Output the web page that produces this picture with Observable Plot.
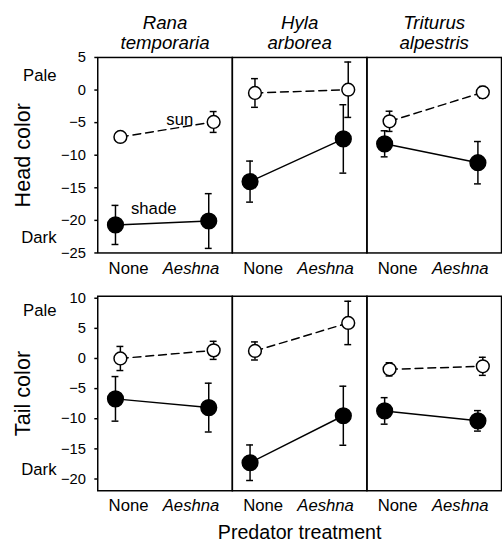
<!DOCTYPE html>
<html><head><meta charset="utf-8">
<script src="https://cdn.jsdelivr.net/npm/d3@7"></script>
<script src="https://cdn.jsdelivr.net/npm/@observablehq/plot@0.6"></script>
<style>
html,body{margin:0;padding:0;background:#fff;overflow:hidden;width:502px;height:551px}
#chart svg{display:block}
</style></head><body><div id="chart"></div>
<script>
// ---- data ----
const species = ["Rana temporaria", "Hyla arborea", "Triturus alpestris"];
const speciesTitles = ["Rana\ntemporaria", "Hyla\narborea", "Triturus\nalpestris"];
const treatments = ["None", "Aeshna"];
const treatmentIndex = [0, 1];
const treatmentLabelPos = [0.14, 0.81];

const headSunMean   = [[-7.2, -4.9], [-0.45, 0.05], [-4.8, -0.35]];
const headSunErr    = [[0.6, 1.6], [2.2, 4.25], [1.55, 0.9]];
const headShadeMean = [[-20.7, -20.1], [-14.05, -7.5], [-8.25, -11.15]];
const headShadeErr  = [[3.0, 4.2], [3.15, 5.25], [2.0, 3.25]];

const tailSunMean   = [[0.0, 1.35], [1.25, 5.9], [-1.8, -1.3]];
const tailSunErr    = [[2.0, 1.5], [1.5, 3.6], [1.1, 1.5]];
const tailShadeMean = [[-6.7, -8.15], [-17.3, -9.5], [-8.7, -10.35]];
const tailShadeErr  = [[3.7, 4.05], [2.95, 4.9], [2.2, 1.7]];

const headTicks = [5, 0, -5, -10, -15, -20, -25];
const tailTicks = [10, 5, 0, -5, -10, -15, -20];
const headDomain = [-25, 5];
const tailDomain = [-21.95, 10.33];
const xDomain = [-0.19, 1.253];

const seriesLabels = [{text: "sun", t: 0.69, v: -4.5}, {text: "shade", t: 0.41, v: -18.2}];
const headWords = [{text: "Pale", v: 2.15}, {text: "Dark", v: -22.6}];
const tailWords = [{text: "Pale", v: 8.0}, {text: "Dark", v: -18.5}];
const xTitle = "Predator treatment";

// ---- build ----
function rows(means, errs, series) {
  const out = [];
  species.forEach((s, i) => treatmentIndex.forEach((t, j) => {
    out.push({species: s, t, series, mean: means[i][j], lo: means[i][j] - errs[i][j], hi: means[i][j] + errs[i][j]});
  }));
  return out;
}

const FONT = "'Liberation Sans', Arial, Helvetica, sans-serif";

function panel({sun, shade, domain, ticks, yLabel, words, height, marginTop, marginBottom, top}) {
  const s0 = species[0];
  const marks = [
    Plot.frame({stroke: "black", strokeWidth: 1.5}),
    Plot.axisY({ticks, tickSize: 3, tickPadding: 9, fontSize: 15, label: null, strokeWidth: 1.5}),
    Plot.axisX({ticks: [treatmentLabelPos[0]], tickFormat: () => treatments[0], tickSize: 0, tickPadding: 9, fontSize: 17, label: null}),
    Plot.axisX({ticks: [treatmentLabelPos[1]], tickFormat: () => treatments[1], tickSize: 0, tickPadding: 9, fontSize: 17, fontStyle: "italic", label: null}),
    // lines
    Plot.line(shade, {fx: "species", x: "t", y: "mean", z: "species", stroke: "black", strokeWidth: 1.5}),
    Plot.line(sun, {fx: "species", x: "t", y: "mean", z: "species", stroke: "black", strokeWidth: 1.5, strokeDasharray: "8,5", dx: 5}),
    // error bars
    Plot.ruleX(shade, {fx: "species", x: "t", y1: "lo", y2: "hi", stroke: "black", strokeWidth: 1.5}),
    Plot.ruleY(shade, {fx: "species", y: "lo", x1: "t", x2: "t", insetLeft: -3.5, insetRight: -3.5, stroke: "black", strokeWidth: 1.5}),
    Plot.ruleY(shade, {fx: "species", y: "hi", x1: "t", x2: "t", insetLeft: -3.5, insetRight: -3.5, stroke: "black", strokeWidth: 1.5}),
    Plot.ruleX(sun, {fx: "species", x: "t", y1: "lo", y2: "hi", stroke: "black", strokeWidth: 1.5, dx: 5}),
    Plot.ruleY(sun, {fx: "species", y: "lo", x1: "t", x2: "t", insetLeft: -3.5, insetRight: -3.5, stroke: "black", strokeWidth: 1.5, dx: 5}),
    Plot.ruleY(sun, {fx: "species", y: "hi", x1: "t", x2: "t", insetLeft: -3.5, insetRight: -3.5, stroke: "black", strokeWidth: 1.5, dx: 5}),
    // points
    Plot.dot(shade, {fx: "species", x: "t", y: "mean", r: 8, fill: "black", stroke: "black"}),
    Plot.dot(sun, {fx: "species", x: "t", y: "mean", r: 6.5, fill: "white", stroke: "black", strokeWidth: 1.5, dx: 5}),
    // y title and Pale/Dark
    Plot.text([{s: s0, text: yLabel}], {fx: "s", text: "text", frameAnchor: "left", textAnchor: "middle", lineAnchor: "middle", rotate: -90, dx: -76, fontSize: 22}),
    Plot.text(words.map(w => ({...w, s: s0})), {fx: "s", y: "v", text: "text", frameAnchor: "left", dx: -42, textAnchor: "end", fontSize: 17})
  ];
  if (top) {
    marks.push(Plot.axisFx({anchor: "top", tickFormat: d => speciesTitles[species.indexOf(d)], fontStyle: "italic", fontSize: 19, lineHeight: 1.06, tickSize: 0, tickPadding: 9, label: null}));
    marks.push(Plot.text(seriesLabels.map(d => ({...d, s: s0})), {fx: "s", x: "t", y: "v", text: "text", fontSize: 17}));
  } else {
    marks.push(Plot.text([{s: species[1], text: xTitle}], {fx: "s", text: "text", frameAnchor: "bottom", lineAnchor: "bottom", dy: 49, fontSize: 20}));
  }
  return Plot.plot({
    width: 511, height, marginLeft: 99, marginRight: 1, marginTop, marginBottom,
    style: {fontFamily: FONT, background: "white", color: "black", overflow: "visible"},
    fx: {domain: species, padding: 0, axis: top ? undefined : null},
    x: {domain: xDomain},
    y: {domain},
    marks
  });
}

const chart = document.getElementById("chart");
chart.append(panel({
  sun: rows(headSunMean, headSunErr, "sun"), shade: rows(headShadeMean, headShadeErr, "shade"),
  domain: headDomain, ticks: headTicks, yLabel: "Head color", words: headWords,
  height: 287, marginTop: 58, marginBottom: 30, top: true
}));
chart.append(panel({
  sun: rows(tailSunMean, tailSunErr, "sun"), shade: rows(tailShadeMean, tailShadeErr, "shade"),
  domain: tailDomain, ticks: tailTicks, yLabel: "Tail color", words: tailWords,
  height: 264, marginTop: 14, marginBottom: 52, top: false
}));
</script></body></html>
